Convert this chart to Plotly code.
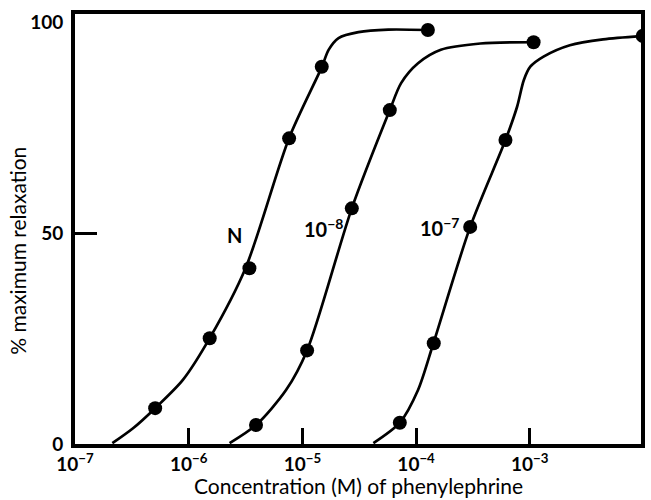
import math
import plotly.graph_objects as go

# ---- data ----
# measured points: concentration (M) and % maximum relaxation
n_conc = [5.07e-7, 1.53e-6, 3.42e-6, 7.64e-6, 1.48e-5, 1.27e-4]
n_resp = [8.5, 25.1, 41.7, 72.5, 89.5, 98.2]

e8_conc = [3.91e-6, 1.10e-5, 2.72e-5, 5.87e-5, 1.08e-3]
e8_resp = [4.5, 22.2, 55.9, 79.2, 95.3]

e7_conc = [7.19e-5, 1.43e-4, 2.99e-4, 6.11e-4, 9.84e-3]
e7_resp = [5.05, 23.9, 51.5, 72.1, 96.8]

# hand-drawn fitted curves
n_curve_conc = [2.13e-7, 3.26e-7, 5.07e-7, 8.89e-7, 1.53e-6, 3.16e-6, 7.64e-6,
                1.48e-5, 1.70e-5, 2.08e-5, 3.11e-5, 5.69e-5, 1.27e-4]
n_curve_resp = [0.2, 3.8, 8.5, 15.2, 25.1, 41.7, 72.6, 89.4, 93.5, 96.3, 97.7, 98.3, 98.2]

e8_curve_conc = [2.29e-6, 3.91e-6, 7.18e-6, 1.10e-5, 2.72e-5, 5.87e-5, 7.38e-5,
                 1.04e-4, 1.65e-4, 3.68e-4, 1.08e-3]
e8_curve_resp = [0.2, 4.5, 12.8, 22.2, 55.9, 79.2, 85.6, 90.3, 93.5, 95.0, 95.3]

e7_curve_conc = [4.21e-5, 7.19e-5, 1.04e-4, 1.42e-4, 2.99e-4, 6.11e-4, 7.73e-4,
                 8.85e-4, 1.01e-3, 1.32e-3, 2.25e-3, 4.41e-3, 9.84e-3]
e7_curve_resp = [0.2, 5.05, 12.8, 23.9, 51.5, 72.1, 80.0, 86.3, 89.5, 91.9, 94.6, 96.0, 96.8]

# curve labels and their positions (concentration, response)
curve_labels = ["N", "10<sup>−8</sup>", "10<sup>−7</sup>"]
label_conc = [2.53e-6, 1.54e-5, 1.60e-4]
label_resp = [49.6, 51.2, 51.5]

x_tickvals = [1e-7, 1e-6, 1e-5, 1e-4, 1e-3]
x_ticktext = ["10<sup>−7</sup>", "10<sup>−6</sup>", "10<sup>−5</sup>",
              "10<sup>−4</sup>", "10<sup>−3</sup>"]
y_tickvals = [0, 50, 100]
y_ticktext = ["0", "50", "100"]

FONT = "Lato"
fig = go.Figure()

for cx, cy in [(n_curve_conc, n_curve_resp), (e8_curve_conc, e8_curve_resp),
               (e7_curve_conc, e7_curve_resp)]:
    fig.add_trace(go.Scatter(x=cx, y=cy, mode="lines",
                             line=dict(color="black", width=2.7, shape="spline", smoothing=0.8),
                             hoverinfo="skip", showlegend=False))

for px, py in [(n_conc, n_resp), (e8_conc, e8_resp), (e7_conc, e7_resp)]:
    fig.add_trace(go.Scatter(x=px, y=py, mode="markers",
                             marker=dict(color="black", size=14, line=dict(width=0)),
                             showlegend=False))

# invisible trace for the secondary y axis that carries the single 50 tick mark
fig.add_trace(go.Scatter(x=[1e-7], y=[50], yaxis="y2", mode="markers",
                         marker=dict(opacity=0), showlegend=False, hoverinfo="skip"))

for t, cx, cy in zip(curve_labels, label_conc, label_resp):
    fig.add_annotation(x=math.log10(cx), y=cy, text=t, showarrow=False,
                       xanchor="center", yanchor="middle",
                       font=dict(family=FONT, size=20, color="black", weight="bold"))

fig.add_annotation(xref="paper", yref="paper", x=0.5, y=-0.097,
                   text="Concentration (M) of phenylephrine", showarrow=False,
                   xanchor="center", yanchor="middle",
                   font=dict(family=FONT, size=21, color="black"))
fig.add_annotation(xref="paper", yref="paper", x=-0.102, y=0.45,
                   text="% maximum relaxation", showarrow=False, textangle=-90,
                   xanchor="center", yanchor="middle",
                   font=dict(family=FONT, size=21, color="black"))

fig.update_layout(
    width=651, height=500,
    margin=dict(l=75, r=6, t=14, b=56),
    paper_bgcolor="white", plot_bgcolor="white",
    font=dict(family=FONT, color="black"),
    showlegend=False,
    xaxis=dict(type="log", range=[-7.0, -2.022],
               tickvals=x_tickvals, ticktext=x_ticktext,
               ticks="inside", ticklen=16, tickwidth=2.5, tickcolor="black",
               showline=True, linewidth=4, linecolor="black", mirror=True,
               showgrid=False, zeroline=False,
               tickfont=dict(family=FONT, size=19, color="black", weight="bold")),
    yaxis=dict(range=[0, 102], tickvals=y_tickvals, ticktext=y_ticktext,
               ticks="", ticklabelstandoff=4,
               showline=True, linewidth=4, linecolor="black", mirror=True,
               showgrid=False, zeroline=False,
               tickfont=dict(family=FONT, size=19, color="black", weight="bold")),
    yaxis2=dict(range=[0, 102], overlaying="y", side="left", tickvals=[50],
                ticks="inside", ticklen=22, tickwidth=3, tickcolor="black",
                showticklabels=False, showline=False, showgrid=False, zeroline=False),
)

fig.write_html("out.html", config={"displayModeBar": False},
               post_script="document.body.style.margin='0';document.body.style.padding='0';")
